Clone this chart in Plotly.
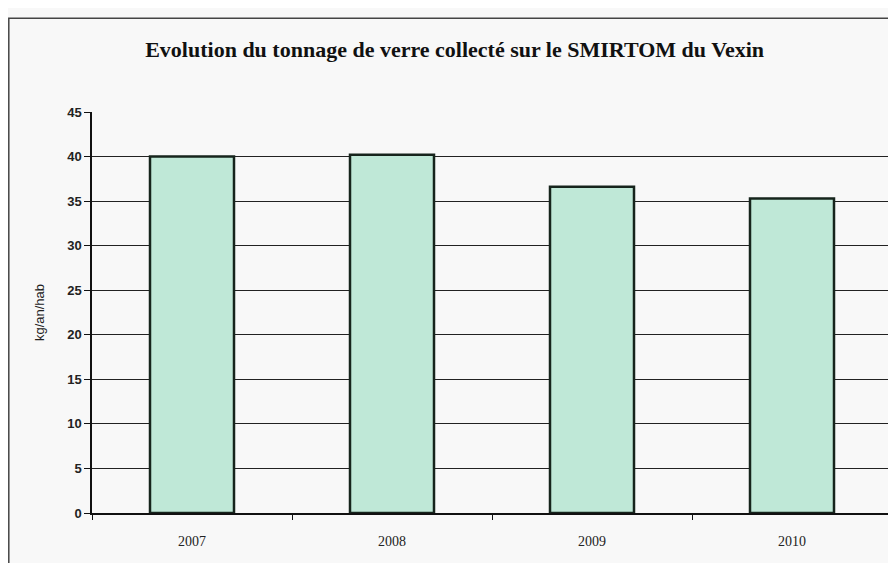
import plotly.graph_objects as go

years = ["2007", "2008", "2009", "2010"]
values = [40.0, 40.2, 36.6, 35.3]
y_ticks = [0, 5, 10, 15, 20, 25, 30, 35, 40, 45]

fig = go.Figure()
fig.add_trace(go.Bar(
    x=years, y=values,
    marker=dict(color="#bfe8d7", line=dict(color="#16241c", width=2.5)),
    width=0.42,
))

fig.update_layout(
    width=888, height=555,
    margin=dict(l=84, r=4, t=104, b=50),
    paper_bgcolor="#f8f8f8", plot_bgcolor="#f8f8f8",
    showlegend=False,
    title=dict(
        text="<b>Evolution du tonnage de verre collecté sur le SMIRTOM du Vexin</b>",
        font=dict(family="Liberation Serif", size=22, color="#111"),
        x=0.503, xanchor="center", y=0.925, yanchor="middle",
    ),
    shapes=[dict(type="rect", xref="paper", yref="paper",
                 x0=-0.104, x1=1.2, y0=-0.3, y1=1.234,
                 line=dict(color="#444", width=1.5), fillcolor="rgba(0,0,0,0)")],
)

fig.update_yaxes(
    range=[0, 45], tickvals=y_ticks,
    showgrid=True, gridcolor="#222", gridwidth=1.3,
    showline=True, linecolor="#111", linewidth=1.5,
    ticks="outside", ticklen=6, tickcolor="#111",
    tickfont=dict(family="Liberation Sans", size=13, color="#222", weight="bold"),
    title=dict(text="kg/an/hab", font=dict(family="Liberation Sans", size=13, color="#222"), standoff=20),
    zeroline=False,
)
fig.update_xaxes(
    showline=True, linecolor="#111", linewidth=1.5,
    ticks="outside", ticklen=5, tickcolor="#111", tickson="boundaries",
    tickfont=dict(family="Liberation Serif", size=14, color="#222"),
    ticklabelstandoff=14,
    showgrid=False,
)

fig.write_html("out.html")
